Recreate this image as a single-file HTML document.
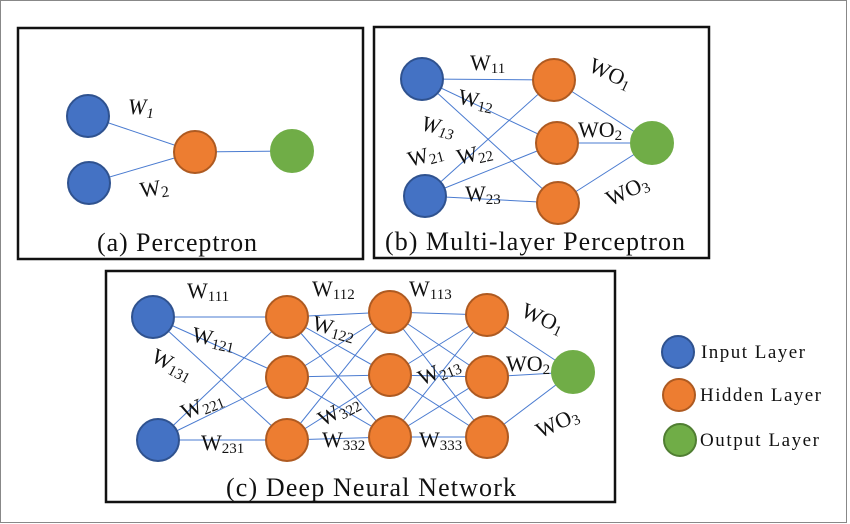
<!DOCTYPE html>
<html><head><meta charset="utf-8"><style>
body{margin:0;background:#fff}
svg{display:block}
text{font-family:"Liberation Serif",serif;fill:#111}
</style></head><body>
<svg id="fig" width="850" height="524" viewBox="0 0 850 524">
<rect x="0.5" y="0.5" width="846" height="522" fill="#fff" stroke="#888" stroke-width="1"/>
<rect x="18" y="28" width="345" height="231" fill="none" stroke="#111" stroke-width="2.5"/>
<rect x="374" y="27" width="335" height="231" fill="none" stroke="#111" stroke-width="2.5"/>
<rect x="106" y="271" width="509" height="231" fill="none" stroke="#111" stroke-width="2.5"/>
<g id="edges"></g>
<g id="nodes"></g>
<g id="labels" font-size="22">
<text x="128" y="114" font-style="italic">W<tspan font-size="15" dy="4">1</tspan></text>
<text x="140" y="196" transform="rotate(-8 150 190)">W<tspan font-size="16" dy="3">2</tspan></text>
<text x="470" y="70">W<tspan font-size="15" dy="3">11</tspan></text>
<text x="458" y="106" transform="rotate(12 470 100)">W<tspan font-size="15" dy="3">12</tspan></text>
<text x="421" y="132" font-style="italic" transform="rotate(12 430 128)">W<tspan font-size="15" dy="3">13</tspan></text>
<text x="408" y="164" transform="rotate(-15 420 158)">W<tspan font-size="15" dy="3">21</tspan></text>
<text x="457" y="162" transform="rotate(-12 470 156)">W<tspan font-size="15" dy="3">22</tspan></text>
<text x="465" y="201">W<tspan font-size="15" dy="3">23</tspan></text>
<text x="588" y="76" transform="rotate(25 600 72)">WO<tspan font-size="15" dy="3">1</tspan></text>
<text x="578" y="137">WO<tspan font-size="15" dy="3">2</tspan></text>
<text x="605" y="201" transform="rotate(-25 620 192)">WO<tspan font-size="15" dy="3">3</tspan></text>
<text x="187" y="298">W<tspan font-size="15" dy="3">111</tspan></text>
<text x="312" y="296">W<tspan font-size="15" dy="3">112</tspan></text>
<text x="409" y="296">W<tspan font-size="15" dy="3">113</tspan></text>
<text x="192" y="344" transform="rotate(12 205 338)">W<tspan font-size="15" dy="3">121</tspan></text>
<text x="312" y="333" transform="rotate(15 325 328)">W<tspan font-size="15" dy="3">122</tspan></text>
<text x="151" y="368" transform="rotate(28 165 362)">W<tspan font-size="15" dy="3">131</tspan></text>
<text x="181" y="415" transform="rotate(-22 195 408)">W<tspan font-size="15" dy="3">221</tspan></text>
<text x="418" y="381" transform="rotate(-22 432 374)">W<tspan font-size="15" dy="3">213</tspan></text>
<text x="318" y="421" transform="rotate(-28 332 414)">W<tspan font-size="15" dy="3">322</tspan></text>
<text x="201" y="450">W<tspan font-size="15" dy="3">231</tspan></text>
<text x="322" y="447">W<tspan font-size="15" dy="3">332</tspan></text>
<text x="419" y="447">W<tspan font-size="15" dy="3">333</tspan></text>
<text x="521" y="322" transform="rotate(25 535 316)">WO<tspan font-size="15" dy="3">1</tspan></text>
<text x="506" y="371">WO<tspan font-size="15" dy="3">2</tspan></text>
<text x="535" y="433" transform="rotate(-25 550 424)">WO<tspan font-size="15" dy="3">3</tspan></text>
</g>
<g font-size="26">
<text x="177" y="251" text-anchor="middle" textLength="160">(a) Perceptron</text>
<text x="535" y="250" text-anchor="middle" textLength="300">(b) Multi-layer Perceptron</text>
<text x="371" y="496" text-anchor="middle" textLength="290">(c) Deep Neural Network</text>
</g>
<g font-size="19">
<circle cx="678" cy="352" r="16" fill="#4472c4" stroke="#2f528f" stroke-width="2"/>
<text x="701" y="358" textLength="104">Input Layer</text>
<circle cx="679" cy="395" r="16" fill="#ed7d31" stroke="#ae5a21" stroke-width="2"/>
<text x="700" y="401" textLength="121">Hidden Layer</text>
<circle cx="680" cy="440" r="16" fill="#70ad47" stroke="#507e32" stroke-width="2"/>
<text x="700" y="446" textLength="119">Output Layer</text>
</g>
</svg>
<script>
const NS='http://www.w3.org/2000/svg';
const colors={i:['#4472c4','#2f528f'],h:['#ed7d31','#ae5a21'],o:['#70ad47','#70ad47']};
const netA=[['i',[[88,116],[89,183]]],['h',[[195,152]]],['o',[[292,151]]]];
const netB=[['i',[[422,79],[425,196]]],['h',[[554,80],[557,143],[558,203]]],['o',[[652,143]]]];
const netC=[['i',[[153,317],[158,440]]],['h',[[287,317],[287,377],[287,440]]],['h',[[390,312],[390,375],[390,437]]],['h',[[487,315],[487,377],[487,437]]],['o',[[573,372]]]];
const nets=[netA,netB,netC];
const eg=document.getElementById('edges'),ng=document.getElementById('nodes');
nets.forEach((net,ni)=>{
  for(let l=0;l<net.length-1;l++){
    net[l][1].forEach(a=>net[l+1][1].forEach(b=>{
      const ln=document.createElementNS(NS,'line');
      ln.setAttribute('x1',a[0]);ln.setAttribute('y1',a[1]);ln.setAttribute('x2',b[0]);ln.setAttribute('y2',b[1]);
      ln.setAttribute('stroke','#4a7bd0');ln.setAttribute('stroke-width','1');
      
      
      eg.appendChild(ln);
    }));
  }
  net.forEach(([t,pts])=>pts.forEach(p=>{
    const c=document.createElementNS(NS,'circle');
    c.setAttribute('cx',p[0]);c.setAttribute('cy',p[1]);c.setAttribute('r',21);
    c.setAttribute('fill',colors[t][0]);c.setAttribute('stroke',colors[t][1]);c.setAttribute('stroke-width','2');
    
    
    ng.appendChild(c);
  }));
});
</script>
</body></html>
